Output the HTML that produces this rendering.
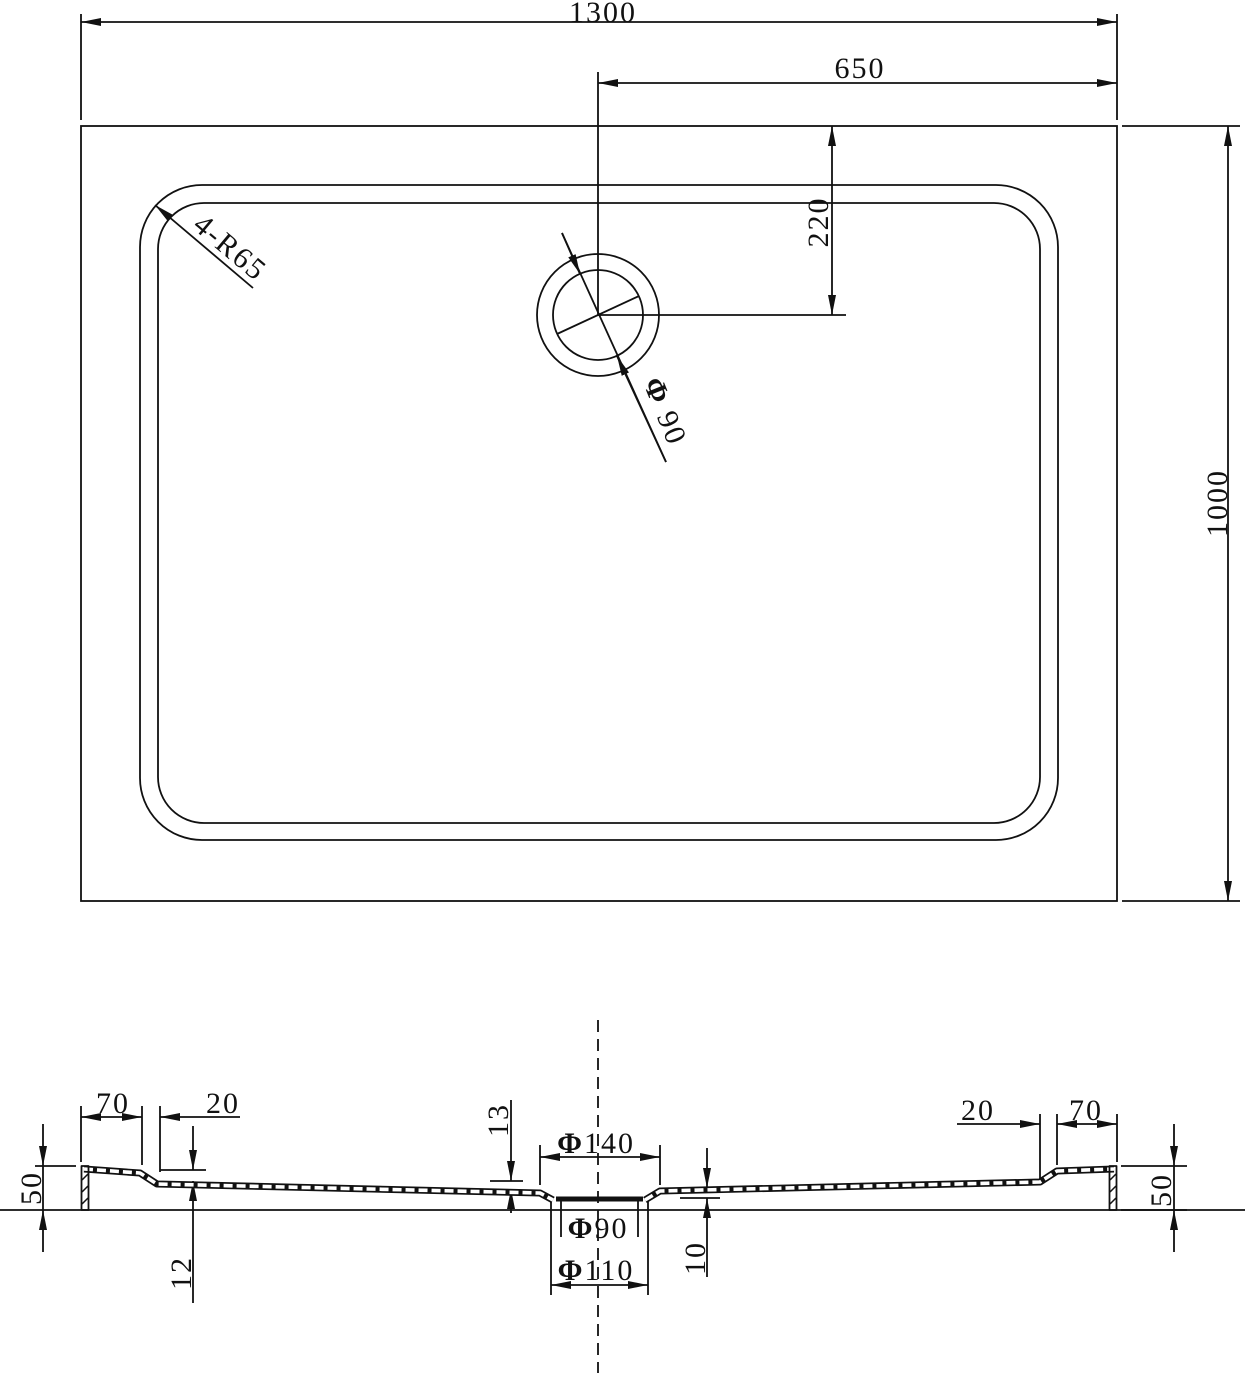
<!DOCTYPE html>
<html><head><meta charset="utf-8"><style>
html,body{margin:0;padding:0;background:#fff}
svg{display:block}
text{font-family:"Liberation Serif",serif;fill:#111}
</style></head><body>
<svg width="1245" height="1373" viewBox="0 0 1245 1373" xmlns="http://www.w3.org/2000/svg">
<defs>
<marker id="a" viewBox="0 0 20 8" refX="20" refY="4" markerWidth="20" markerHeight="8" markerUnits="userSpaceOnUse" orient="auto-start-reverse">
<path d="M0,0 L20,4 L0,8 Z" fill="#111"/></marker>
</defs>
<g stroke="#111" stroke-width="1.8" fill="none">
<rect x="81" y="126" width="1036" height="775"/>
<rect x="140" y="185" width="918" height="655" rx="62"/>
<rect x="158" y="203" width="882" height="620" rx="46"/>
<line x1="81" y1="14" x2="81" y2="120"/>
<line x1="1117" y1="14" x2="1117" y2="120"/>
<line x1="81" y1="22" x2="1117" y2="22" marker-start="url(#a)" marker-end="url(#a)"/>
<line x1="598" y1="72" x2="598" y2="315"/>
<line x1="598" y1="83" x2="1117" y2="83" marker-start="url(#a)" marker-end="url(#a)"/>
<line x1="598" y1="315" x2="846" y2="315"/>
<line x1="832" y1="126" x2="832" y2="315" marker-start="url(#a)" marker-end="url(#a)"/>
<line x1="1122" y1="126" x2="1240" y2="126"/>
<line x1="1122" y1="901" x2="1240" y2="901"/>
<line x1="1228" y1="126" x2="1228" y2="901" marker-start="url(#a)" marker-end="url(#a)"/>
<circle cx="598" cy="315" r="61"/>
<circle cx="598" cy="315" r="45"/>
<line x1="562" y1="233" x2="666" y2="462"/>
<line x1="562" y1="233" x2="580" y2="274" marker-end="url(#a)"/>
<line x1="666" y1="462" x2="617" y2="356" marker-end="url(#a)"/>
<line x1="557" y1="334" x2="639" y2="296"/>
<line x1="253" y1="288" x2="155" y2="205" marker-end="url(#a)"/>
<line x1="0" y1="1210" x2="1245" y2="1210"/>
<line x1="598" y1="1020" x2="598" y2="1373" stroke-dasharray="12,7"/>
<line x1="81" y1="1106" x2="81" y2="1162"/>
<line x1="142" y1="1106" x2="142" y2="1165"/>
<line x1="160" y1="1106" x2="160" y2="1172"/>
<line x1="81" y1="1117" x2="142" y2="1117" marker-start="url(#a)" marker-end="url(#a)"/>
<line x1="240" y1="1117" x2="160" y2="1117" marker-end="url(#a)"/>
<line x1="35" y1="1166" x2="76" y2="1166"/>
<line x1="43" y1="1124" x2="43" y2="1166" marker-end="url(#a)"/>
<line x1="43" y1="1252" x2="43" y2="1210" marker-end="url(#a)"/>
<line x1="43" y1="1166" x2="43" y2="1210"/>
<line x1="160" y1="1170" x2="206" y2="1170"/>
<line x1="193" y1="1126" x2="193" y2="1170" marker-end="url(#a)"/>
<line x1="193" y1="1303" x2="193" y2="1181" marker-end="url(#a)"/>
<line x1="490" y1="1181" x2="523" y2="1181"/>
<line x1="511" y1="1100" x2="511" y2="1181" marker-end="url(#a)"/>
<line x1="511" y1="1213" x2="511" y2="1189" marker-end="url(#a)"/>
<line x1="540" y1="1145" x2="540" y2="1185"/>
<line x1="660" y1="1145" x2="660" y2="1185"/>
<line x1="540" y1="1157" x2="660" y2="1157" marker-start="url(#a)" marker-end="url(#a)"/>
<line x1="561" y1="1200" x2="561" y2="1237"/>
<line x1="638" y1="1200" x2="638" y2="1237"/>
<line x1="551" y1="1200" x2="551" y2="1295"/>
<line x1="648" y1="1200" x2="648" y2="1295"/>
<line x1="551" y1="1285" x2="648" y2="1285" marker-start="url(#a)" marker-end="url(#a)"/>
<line x1="680" y1="1198" x2="720" y2="1198"/>
<line x1="707" y1="1148" x2="707" y2="1188" marker-end="url(#a)"/>
<line x1="707" y1="1277" x2="707" y2="1198" marker-end="url(#a)"/>
<line x1="1040" y1="1114" x2="1040" y2="1184"/>
<line x1="1057" y1="1114" x2="1057" y2="1165"/>
<line x1="1117" y1="1114" x2="1117" y2="1162"/>
<line x1="957" y1="1124" x2="1040" y2="1124" marker-end="url(#a)"/>
<line x1="1057" y1="1124" x2="1117" y2="1124" marker-start="url(#a)" marker-end="url(#a)"/>
<line x1="1121" y1="1166" x2="1187" y2="1166"/>
<line x1="1121" y1="1210" x2="1187" y2="1210"/>
<line x1="1174" y1="1124" x2="1174" y2="1166" marker-end="url(#a)"/>
<line x1="1174" y1="1252" x2="1174" y2="1210" marker-end="url(#a)"/>
<line x1="1174" y1="1166" x2="1174" y2="1210"/>
</g>
<g fill="none" stroke-linejoin="round">
<path d="M84,1169 L140,1173 L157,1184 L540,1193 L553,1200 M645,1200 L660,1191 L1040,1182 L1057,1171 L1114,1169" stroke="#111" stroke-width="7"/>
<path d="M84,1169 L140,1173 L157,1184 L540,1193 L553,1200 M645,1200 L660,1191 L1040,1182 L1057,1171 L1114,1169" stroke="#fff" stroke-width="3.6" stroke-dasharray="9,4"/>
<rect x="81.5" y="1166" width="7" height="44" stroke="#111" stroke-width="1.8"/>
<rect x="1109.5" y="1166" width="7" height="44" stroke="#111" stroke-width="1.8"/>
<line x1="82" y1="1180" x2="88" y2="1174" stroke="#111" stroke-width="1.5"/><line x1="82" y1="1192" x2="88" y2="1186" stroke="#111" stroke-width="1.5"/><line x1="82" y1="1204" x2="88" y2="1198" stroke="#111" stroke-width="1.5"/>
<line x1="1110" y1="1180" x2="1116" y2="1174" stroke="#111" stroke-width="1.5"/><line x1="1110" y1="1192" x2="1116" y2="1186" stroke="#111" stroke-width="1.5"/><line x1="1110" y1="1204" x2="1116" y2="1198" stroke="#111" stroke-width="1.5"/>
<line x1="556" y1="1199" x2="643" y2="1199" stroke="#111" stroke-width="5"/>
</g>
<g font-size="30" letter-spacing="2">
<text x="603" y="22" text-anchor="middle">1300</text>
<text x="860" y="78" text-anchor="middle">650</text>
<text transform="translate(828,222) rotate(-90)" text-anchor="middle">220</text>
<text transform="translate(1227,503) rotate(-90)" text-anchor="middle">1000</text>
<text transform="translate(224,255) rotate(40)" text-anchor="middle">4-R65</text>
<text transform="translate(656,415) rotate(68)" text-anchor="middle" font-weight="bold">Φ <tspan font-weight="normal">90</tspan></text>
<text x="113" y="1113" text-anchor="middle">70</text>
<text x="223" y="1113" text-anchor="middle">20</text>
<text transform="translate(41,1188) rotate(-90)" text-anchor="middle">50</text>
<text transform="translate(191,1273) rotate(-90)" text-anchor="middle">12</text>
<text transform="translate(508,1120) rotate(-90)" text-anchor="middle">13</text>
<text x="596" y="1153" text-anchor="middle"><tspan font-weight="bold">Φ</tspan>140</text>
<text x="598" y="1238" text-anchor="middle"><tspan font-weight="bold">Φ</tspan>90</text>
<text x="596" y="1280" text-anchor="middle"><tspan font-weight="bold">Φ</tspan>110</text>
<text transform="translate(705,1258) rotate(-90)" text-anchor="middle">10</text>
<text x="978" y="1120" text-anchor="middle">20</text>
<text x="1086" y="1120" text-anchor="middle">70</text>
<text transform="translate(1171,1190) rotate(-90)" text-anchor="middle">50</text>
</g>
</svg>
</body></html>
